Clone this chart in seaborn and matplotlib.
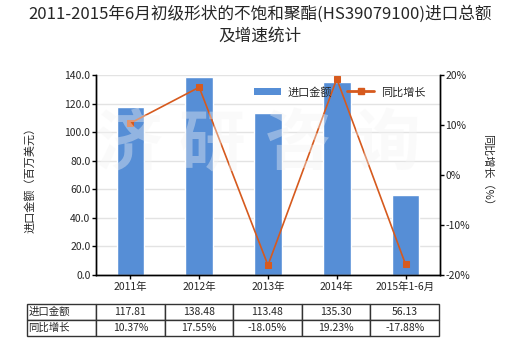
import numpy as np
import pandas as pd
import matplotlib
matplotlib.use("Agg")
import matplotlib.pyplot as plt
import seaborn as sns
from matplotlib.patches import Patch
from matplotlib.lines import Line2D

years = ["2011年", "2012年", "2013年", "2014年", "2015年1-6月"]
imports = [117.81, 138.48, 113.48, 135.30, 56.13]
growth = [10.37, 17.55, -18.05, 19.23, -17.88]
import_labels = ["117.81", "138.48", "113.48", "135.30", "56.13"]
growth_labels = ["10.37%", "17.55%", "-18.05%", "19.23%", "-17.88%"]

sns.set_style("white")
plt.rcParams["font.family"] = ["Noto Sans CJK SC", "DejaVu Sans"]

bar_color = "#568ED6"
line_color = "#D65A1E"

df = pd.DataFrame({"year": years, "imports": imports, "growth": growth})

fig = plt.figure(figsize=(5.2, 3.5), dpi=100)
ax = fig.add_axes([0.1846, 0.2143, 0.6615, 0.5714])

sns.barplot(data=df, x="year", y="imports", color=bar_color, width=0.4,
            saturation=1, ax=ax, zorder=2)
ax.set_ylim(0, 140)
ax.set_yticks(np.arange(0, 141, 20))
ax.set_yticklabels([f"{v:.1f}" for v in np.arange(0, 141, 20)])
ax.yaxis.grid(True, color="#E3E3E3", linewidth=1, zorder=0)
ax.set_axisbelow(True)
ax.set_xlabel("")
ax.set_ylabel("")
ax.set_xlim(-0.5, 4.5)

ax2 = ax.twinx()
sns.lineplot(x=np.arange(len(years)), y=growth, ax=ax2, color=line_color,
             marker="s", markersize=5, markeredgecolor=line_color,
             linewidth=1.2, zorder=3)
ax2.set_ylim(-20, 20)
ax2.set_yticks([-20, -10, 0, 10, 20])
ax2.set_yticklabels(["-20%", "-10%", "0%", "10%", "20%"])
ax2.set_xlim(-0.5, 4.5)

for a in (ax, ax2):
    a.spines["top"].set_visible(False)
    for s in ("left", "right", "bottom"):
        a.spines[s].set_color("black")
        a.spines[s].set_linewidth(1)
    a.tick_params(labelsize=7.5, length=3, width=1, color="black", pad=1)
ax.tick_params(axis="y", left=True)
ax.tick_params(axis="x", bottom=True, length=3, pad=2)
ax2.tick_params(axis="y", right=True)

# watermark
for xc, ch in zip([0.248, 0.408, 0.573, 0.745], "济研咨询"):
    fig.text(xc, 0.586, ch, fontsize=48, fontweight="bold", color="#f4f4f4",
             alpha=0.38, ha="center", va="center", zorder=10)

handles = [Patch(facecolor=bar_color, edgecolor="none"),
           Line2D([0], [0], color=line_color, marker="s", markersize=4, linewidth=2)]
ax2.legend(handles, ["进口金额", "同比增长"], ncol=2, frameon=False,
           loc="center left", bbox_to_anchor=(0.43, 0.915), fontsize=8,
           handlelength=2.4, columnspacing=1.4, handletextpad=0.6)

fig.text(0.5, 0.985, "2011-2015年6月初级形状的不饱和聚酯(HS39079100)进口总额\n及增速统计",
         ha="center", va="top", fontsize=12, linespacing=1.35)
fig.text(0.058, 0.494, "进口金额（百万美元）", rotation=90, ha="center", va="center", fontsize=8)
fig.text(0.937, 0.506, "同比增长（%）", rotation=270, ha="center", va="center", fontsize=8)

cells = [["进口金额"] + import_labels, ["同比增长"] + growth_labels]
tbl = ax.table(cellText=cells, cellLoc="center",
               colWidths=[69] + [68.4] * 5,
               bbox=[-0.201, -0.305, 1.198, 0.16])
tbl.auto_set_font_size(False)
tbl.set_fontsize(7.5)
for (r, c), cell in tbl.get_celld().items():
    cell.set_edgecolor("#333333")
    cell.set_linewidth(1)
    if c == 0:
        cell._loc = "left"
        cell.PAD = 0.02
        cell.get_text().set_ha("left")

fig.savefig("out.png", dpi=100)
